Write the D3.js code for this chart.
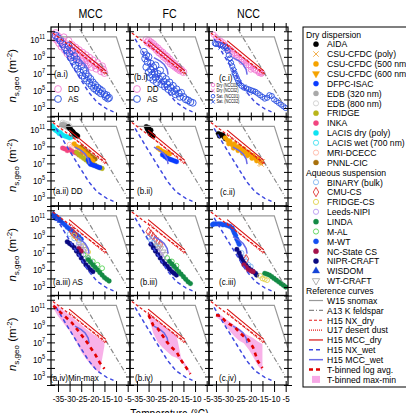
<!DOCTYPE html>
<html>
<head>
<meta charset="utf-8">
<script src="https://cdn.jsdelivr.net/npm/d3@7"></script>
<style>
  body { margin: 0; background: #fff; }
  text { font-family: "Liberation Sans", Arial, sans-serif; fill: #000; }
</style>
</head>
<body>
<svg id="chart" width="406" height="413"></svg>
<script>
// 1: DATA  (every point is [temperature degC, log10 ns,geo in m^-2])
const columnTitles = ["MCC", "FC", "NCC"];
const xTickValues = [-35, -30, -25, -20, -15, -10, -5];
const yTickExps = [2, 3, 4, 5, 6, 7, 8, 9, 10, 11, 12];
const yLabelExps = [3, 5, 7, 9, 11];

// reference curves
const refSnomax = [[-35, 11.35], [-9.9, 11.35], [-4.0, 6.3]];
const refFeldspar = [[-25.6, 12.26], [-5.5, 3.2]];
const refNXdry = [[-37.2, 11.8], [-14, 7.0]];
const refU17 = [[-30.2, 10.5], [-14.6, 6.95]];
const refMCCdry = [[-30.2, 10.9], [-14.4, 7.35]];
const refNXwet = [[-35.8, 11.1], [-31.2, 9.0], [-26.9, 7.1], [-21.9, 4.9], [-18.3, 3.7], [-14, 2.9], [-11.1, 2.55]];
const refMCCwet = [[-27.7, 8.9], [-25, 8.5], [-23.3, 8.1], [-22, 7.5], [-21.6, 6.9]];

// row i : DD vs AS
const aiDD = [[-37,11.6],[-36.5,11.2],[-36,11.8],[-35.5,11.0],[-35,11.4],[-34.5,10.6],[-34,11.1],[-33.5,10.2],[-33,10.8],[-32.5,11.3],[-32,9.8],[-31.5,10.5],[-31,9.4],[-30.5,10.9],[-30,10.0],[-29.5,9.2],[-29,10.4],[-28.5,9.7],[-28,8.9],[-27.5,10.1],[-27,9.4],[-26.5,8.7],[-26,9.8],[-25.5,9.1],[-25,8.5],[-24.5,9.5],[-24,8.8],[-23.5,8.3],[-23,9.2],[-22.5,8.6],[-22,8.1],[-21.5,8.9],[-21,8.3],[-20.5,7.8],[-20,8.6],[-19,8.0],[-18.5,7.6],[-18,8.3],[-17,7.8],[-16.5,7.3],[-16,7.9],[-15.5,7.5],[-15,7.1]];
const aiAS = [[-36,11.5],[-35,11.2],[-34,10.9],[-33,10.5],[-32,10.1],[-31,9.8],[-30.5,10.3],[-30,9.4],[-29.5,8.9],[-29,9.7],[-28.5,8.5],[-28,9.1],[-27.5,8.0],[-27,8.7],[-26.5,7.6],[-26,8.3],[-25.5,7.2],[-25,7.9],[-24.5,6.8],[-24,7.4],[-23.5,6.5],[-23,7.0],[-22.5,6.2],[-22,6.7],[-21.5,5.9],[-21,6.4],[-20.5,5.6],[-20,6.0],[-19.5,5.3],[-19,5.7],[-18.5,5.1],[-18,5.4],[-17.5,4.9],[-17,5.2],[-16.5,4.7],[-16,5.0],[-15,4.6],[-14.5,4.3],[-14,4.5],[-13.5,4.1],[-13,4.2]];
const biDD = [[-31,11.0],[-30.5,10.7],[-30,10.9],[-29.5,10.5],[-29,10.7],[-28.5,10.3],[-28,10.5],[-27.5,10.1],[-27,10.2],[-26.5,9.8],[-26,10.0],[-25.5,9.5],[-25,9.7],[-24.5,9.3],[-24,9.5],[-23.5,9.0],[-23,9.2],[-22.5,8.8],[-22,9.0],[-21.5,8.5],[-21,8.7],[-20.5,8.2],[-20,8.4],[-19.5,8.0],[-19,8.2],[-18.5,7.8],[-18,7.9],[-17.5,7.6],[-17,7.7],[-16.5,7.4],[-16,7.5],[-15,7.2]];
const biAS = [[-32,9.6],[-31.5,8.8],[-31,9.2],[-31,7.8],[-30.5,8.4],[-30,7.2],[-30,9.0],[-29.5,6.6],[-29,8.2],[-29,7.5],[-28.5,6.9],[-28,7.8],[-28,6.3],[-27.5,7.2],[-27,6.6],[-27,8.0],[-26.5,6.0],[-26,7.0],[-25.5,6.4],[-25,7.4],[-24.5,5.8],[-24,6.7],[-23.5,6.1],[-23,5.5],[-22.5,6.4],[-22,5.8],[-21.5,5.2],[-21,6.0],[-20.5,5.4],[-20,4.9],[-19.5,5.6],[-19,5.0],[-18.5,4.6],[-18,5.2],[-17,4.7],[-16.5,4.3],[-16,4.8],[-15,4.3],[-14,4.0],[-13,3.9],[-12,3.7],[-11,3.6]];
const ciDD = [[-36,11.6],[-35,11.3],[-34,11.0],[-33,10.9],[-32.5,10.5],[-32,10.7],[-31,10.3],[-30,10.1],[-30,9.8],[-29,9.9],[-28,9.6],[-28,9.3],[-27,9.4],[-26,9.2],[-26,8.9],[-25,8.9],[-24,8.7],[-24,8.4],[-23,8.5],[-22,8.3],[-22,8.0],[-21,8.0],[-20,7.8],[-20,7.5],[-19,7.6],[-18,7.4],[-17,7.3],[-16.5,7.1],[-16,7.2],[-15.5,7.0],[-15,7.1]];
const ciAS = [[-35.5,10.6],[-35,10.5],[-34,10.5],[-33,10.4],[-32,10.3],[-31,10.2],[-30.5,10.0],[-30,9.7],[-29.5,9.2],[-29,8.8],[-28.5,8.3],[-28,7.9],[-27.5,7.5],[-27,7.1],[-26.5,6.8],[-26,6.5],[-25.5,6.2],[-25,5.9],[-24,5.6],[-23,5.4],[-22,5.3],[-21,5.2],[-20,5.1],[-19,5.0],[-18,4.9],[-17,4.7],[-16,4.5],[-15,4.3],[-14,4.1],[-13,4.2],[-12,4.5],[-11,4.4],[-10,4.0],[-9,3.8],[-8,3.6],[-7,3.4],[-6,3.2],[-5,3.0]];
const ciAS2 = [[-33,10.1],[-31,9.9],[-29,8.5],[-27,7.3],[-25,6.0],[-23,5.5],[-21,5.0],[-19,4.8]];
const ciDD2 = [[-34,11.2],[-31,10.5],[-28,9.8],[-25,9.1],[-22,8.5],[-19,7.8]];

// row ii : dry dispersion
const aiiLACIS = [[-37.5,11.4],[-37,11.2],[-36.5,11.0],[-36,10.9],[-35.5,10.8],[-35,10.7],[-34.5,10.5],[-34,10.6],[-33.5,10.4],[-33,10.3],[-32,10.2],[-31,10.1],[-30,10.0],[-29,10.1]];
const aiiEDB320 = [[-33.5,11.5],[-33,11.6],[-32.5,11.4],[-32,11.5],[-31.5,11.3],[-31,11.2]];
const aiiEDB800 = [[-33,11.8],[-32,11.7],[-31,11.6],[-30,11.4]];
const aiiAIDA = [[-30.5,11.3],[-30,11.1],[-29.5,11.0],[-29,10.8],[-28.5,10.7],[-28,10.5],[-27.5,10.4],[-27,10.3],[-26.5,10.2]];
const aiiINKA = [[-33,8.8],[-32,8.7],[-31,8.5],[-30,8.6],[-29,8.4],[-28,8.3],[-27,8.2],[-26,8.0],[-25,8.1]];
const aiiCSU = [[-28,9.3],[-27,9.0],[-26,8.8],[-25,8.6],[-24,8.4],[-23,8.1],[-22,7.9],[-21,7.6],[-20,7.3]];
const aiiFRIDGE = [[-27,8.3],[-26,8.0],[-25,7.8],[-24,7.6],[-23,7.4],[-22,7.2],[-21,7.1],[-20,6.9],[-19,6.8],[-18,6.6],[-17,6.5],[-16,6.4]];
const aiiPNNL = [[-25,8.9],[-24,8.6],[-23,8.4],[-22,8.2],[-21,7.9],[-20,7.7],[-19,7.5]];
const aiiDFPC = [[-22,7.4],[-21.5,7.1],[-21,6.9],[-20,6.8],[-19,6.7],[-18,6.6],[-17,6.5]];
const aiiMRI = [[-30,9.2],[-29,9.0],[-28,8.8]];
const biiAIDA = [[-31,11.3],[-30.5,11.0],[-30,10.8],[-29.5,10.6],[-29,10.4],[-28.5,10.3],[-28,10.2],[-30,11.2],[-29,10.9]];
const biiCSU = [[-26,8.8],[-25,8.6],[-24,8.4],[-23,8.3],[-22,8.2],[-21,8.1]];
const biiDFPC = [[-24,8.0],[-23,7.8],[-22,7.6],[-21,7.5],[-20,7.4],[-19,7.3],[-18,7.2]];
const ciiAIDA = [[-34,10.5],[-33.5,10.2],[-33,10.4],[-32,10.3],[-31.5,10.1],[-31,9.9]];
const ciiCSU = [[-31,10.0],[-30,9.7],[-29.5,9.3],[-29,9.6],[-28,9.2],[-27.5,8.8],[-27,9.3],[-26,8.9],[-25.5,8.5],[-25,9.0],[-24,8.6],[-23.5,8.2],[-23,8.7],[-22,8.3],[-21.5,7.9],[-21,8.3],[-20,8.0],[-19.5,7.6],[-19,7.9],[-18,7.6],[-17.5,7.3],[-17,7.5],[-16,7.2],[-15.5,7.1]];
const ciiCSUx = [[-16,7.0],[-15,7.2],[-15.5,6.9]];

// row iii : aqueous suspension
const aiiiWISDOM = [[-37,11.5],[-36.5,11.3],[-36,11.1],[-35,11.0],[-34,10.8]];
const aiiiMWT = [[-36,11.3],[-35,11.0],[-34,10.8],[-33,10.5],[-32,10.3],[-31,10.0],[-30,9.8],[-29,9.6],[-28,9.3],[-27,9.1],[-26,8.9],[-25,8.6]];
const aiiiNIPR = [[-31,8.3],[-30,8.1],[-29,7.9],[-28,7.6],[-27,7.2],[-26,6.8],[-25,6.4],[-24,6.0],[-23,5.6],[-22,5.3],[-21,5.0],[-20,4.8]];
const aiiiLeeds = [[-26,8.0],[-25,7.6],[-24,7.2],[-23,6.8],[-22,6.4],[-21,6.0]];
const aiiiFRIDGECS = [[-28,9.0],[-26,8.5],[-24,7.8],[-22,7.1]];
const aiiiLINDA = [[-22,6.2],[-21,5.9],[-20,5.6],[-19,5.3],[-18,5.0],[-17,4.7],[-16,4.4],[-15,4.1],[-14,3.9],[-13,3.7]];
const aiiiMAL = [[-24,6.8],[-22,6.4],[-20,6.0],[-18,5.6],[-16,5.2]];
const aiiiBINARY = [[-30,9.2],[-28,8.7],[-26,8.2]];
const aiiiCMU = [[-29,9.5],[-28,9.2],[-27,8.9]];
const aiiiNCState = [[-26,7.5],[-25,7.2]];
const aiiiWT = [[-25,7.8],[-24,7.4]];
const biiiCMU = [[-30,9.5],[-29,9.2],[-28,8.9],[-27,8.6],[-26,8.3],[-25,8.0]];
const biiiBINARY = [[-30,8.8],[-29,8.5],[-28,8.2],[-27,7.9],[-26,7.6]];
const biiiNIPR = [[-29,8.0],[-28,7.6],[-27,7.2],[-26,6.8],[-25,6.4],[-24,6.0],[-23,5.7],[-22,5.4],[-21,5.1],[-20,4.8],[-19,4.6],[-18,4.4]];
const biiiLeeds = [[-26,7.2],[-25,6.8],[-24,6.4],[-23,6.0],[-22,5.6],[-21,5.2]];
const biiiLINDA = [[-21,6.0],[-20,5.7],[-19,5.4],[-18,5.1],[-17,4.8],[-16,4.5],[-15,4.2],[-14,3.9],[-13,3.6],[-12,3.4]];
const biiiWT = [[-26,7.8],[-25,7.5],[-24,7.1],[-23,6.8]];
const biiiMAL = [[-22,6.4],[-20,6.0],[-18,5.5]];
const ciiiMWT = [[-36.5,10.3],[-36,10.4],[-35,10.4],[-34,10.4],[-33,10.4],[-32,10.3],[-31,10.3],[-30,10.2],[-29,10.1],[-28,9.9],[-27.5,9.6],[-27,9.3],[-26.5,9.0],[-26,8.6],[-25.5,8.3],[-25,8.0]];
const ciiiNIPR = [[-26,7.4],[-25,7.0],[-24.5,6.6],[-24,6.3],[-23.5,6.0],[-23,5.8],[-22,5.5],[-21,5.2],[-20,5.0],[-19,4.8],[-18,4.6],[-17.5,4.4]];
const ciiiNCState = [[-23,5.6],[-22,5.3],[-21,5.0],[-20,4.9],[-19,4.8]];
const ciiiBINARY = [[-24,7.0],[-23,6.4],[-22,6.0],[-21,5.6],[-20,5.4]];
const ciiiFRIDGECS = [[-16,4.3],[-15,4.0],[-14,3.9],[-13,3.8]];
const ciiiLINDA = [[-14,4.6],[-13,4.5],[-12,4.4],[-11,4.2],[-10,4.0],[-9,3.8],[-8,3.6],[-7,3.4],[-6,3.2],[-5,3.0]];
const ciiiCMU = [[-22,6.3]];

// row iv : temperature-binned statistics
const ivA_T   = [-37, -35, -33, -31, -29, -27, -25, -23, -21, -19, -17, -15];
const ivA_max = [11.5, 11.2, 10.8, 10.4, 10.0, 9.5, 9.1, 8.6, 8.2, 7.8, 7.4, 7.1];
const ivA_min = [11.0, 10.1, 9.4, 8.7, 8.0, 7.0, 5.9, 5.1, 4.4, 3.8, 3.5, 6.6];
const ivA_avg = [11.3, 10.8, 10.3, 9.8, 9.3, 8.6, 7.9, 7.2, 6.4, 5.6, 4.6, 3.9];
const ivB_T   = [-30, -28, -26, -24, -22, -20, -18, -16, -14, -12];
const ivB_max = [10.4, 9.9, 9.5, 9.0, 8.6, 8.2, 7.9, 5.2, 4.4, 3.5];
const ivB_min = [10.0, 8.1, 7.0, 6.4, 5.9, 5.4, 5.2, 4.8, 4.0, 3.2];
const ivB_avg = [10.2, 9.0, 8.6, 7.8, 7.0, 6.4, 5.9, 4.9, 4.1, 3.3];
const ivC_T   = [-35, -33, -31, -29, -27, -25, -23, -21, -19, -17, -15];
const ivC_max = [10.4, 10.2, 9.8, 9.4, 9.0, 8.6, 8.1, 7.8, 7.5, 7.1, 6.8];
const ivC_min = [10.0, 9.6, 9.0, 8.3, 7.7, 7.2, 6.9, 6.2, 5.3, 4.3, 3.6];
const ivC_avg = [10.2, 10.1, 9.5, 9.1, 8.8, 8.2, 7.7, 7.3, 6.4, 4.8, 4.0];

// legend names
const dryNames = ["AIDA", "CSU-CFDC (poly)", "CSU-CFDC (500 nm)", "CSU-CFDC (600 nm)", "DFPC-ISAC", "EDB (320 nm)", "EDB (800 nm)", "FRIDGE", "INKA", "LACIS dry (poly)", "LACIS wet (700 nm)", "MRI-DCECC", "PNNL-CIC"];
const aqNames = ["BINARY (bulk)", "CMU-CS", "FRIDGE-CS", "Leeds-NIPI", "LINDA", "M-AL", "M-WT", "NC-State CS", "NIPR-CRAFT", "WISDOM", "WT-CRAFT"];
const refNames = ["W15 snomax", "A13 K feldspar", "H15 NX_dry", "U17 desert dust", "H15 MCC_dry", "H15 NX_wet", "H15 MCC_wet", "T-binned log avg.", "T-binned max-min"];
const ncLegendNames = ["Dry (NCC01)", "Dry (NCC02)", "Sat. (NCC01)", "Sat. (NCC02)"];

// 2: STYLES
const pinkDD = "#f27ad2", blueAS = "#2a4fe0";
const markerStyle = {
  "AIDA": { shape: "circle", color: "#000000" },
  "CSU-CFDC (poly)": { shape: "x", color: "#f2a73a" },
  "CSU-CFDC (500 nm)": { shape: "circle", color: "#f5a300" },
  "CSU-CFDC (600 nm)": { shape: "tridown", color: "#f5a300" },
  "DFPC-ISAC": { shape: "circle", color: "#0a3cff" },
  "EDB (320 nm)": { shape: "circle", color: "#a9a9a9" },
  "EDB (800 nm)": { shape: "ocircle", color: "#cfcfcf" },
  "FRIDGE": { shape: "circle", color: "#b9b51a" },
  "INKA": { shape: "circle", color: "#f2447f" },
  "LACIS dry (poly)": { shape: "circle", color: "#0fe3f2" },
  "LACIS wet (700 nm)": { shape: "ocircle", color: "#3fe0f0" },
  "MRI-DCECC": { shape: "ocircle", color: "#ffb7a6" },
  "PNNL-CIC": { shape: "circle", color: "#a8700c" },
  "BINARY (bulk)": { shape: "ocircle", color: "#80b6f2" },
  "CMU-CS": { shape: "odiamond", color: "#e03232" },
  "FRIDGE-CS": { shape: "ocircle", color: "#e2d24e" },
  "Leeds-NIPI": { shape: "ocircle", color: "#b898f0" },
  "LINDA": { shape: "circle", color: "#138a45" },
  "M-AL": { shape: "ocircle", color: "#55d455" },
  "M-WT": { shape: "circle", color: "#1450f2" },
  "NC-State CS": { shape: "circle", color: "#a3124a" },
  "NIPR-CRAFT": { shape: "circle", color: "#0a0a80" },
  "WISDOM": { shape: "tri", color: "#1443d6" },
  "WT-CRAFT": { shape: "otridown", color: "#a8a8a8" }
};
const refStyle = {
  "W15 snomax": { color: "#999", width: 1.2, dash: null },
  "A13 K feldspar": { color: "#888", width: 1.2, dash: "5,2,1,2" },
  "H15 NX_dry": { color: "#e41a1a", width: 1.2, dash: "3,2" },
  "U17 desert dust": { color: "#e41a1a", width: 1.2, dash: "1,1" },
  "H15 MCC_dry": { color: "#d81010", width: 1.2, dash: null },
  "H15 NX_wet": { color: "#3e49e0", width: 1.5, dash: "4,3" },
  "H15 MCC_wet": { color: "#6a6ae6", width: 1.5, dash: null }
};
const sx = 0.85; // figure text is horizontally condensed

// 3: LAYOUT
const colX = [51, 130, 209], colW = 79;
const rowY = [27, 116.5, 206, 295.5], rowH = 89.5;

const svg = d3.select("#chart");

function xScaleFor(c) {
  return d3.scaleLinear().domain([-38, -4]).range([colX[c], colX[c] + colW]);
}
function yScaleFor(r) {
  return d3.scaleLog().domain([1e2, Math.pow(10, 12.5)]).range([rowY[r] + rowH, rowY[r]]);
}

function label(parent, x, y, str, size, anchor, k) {
  return parent.append("text")
    .attr("transform", `translate(${x},${y}) scale(${k || sx},1)`)
    .attr("font-size", size)
    .attr("text-anchor", anchor || "start")
    .text(str);
}

function symbolPath(shape, r) {
  const area = Math.PI * r * r;
  if (shape === "tri" || shape === "tridown" || shape === "otridown") return d3.symbol(d3.symbolTriangle, area * 1.1)();
  if (shape === "odiamond") return d3.symbol(d3.symbolDiamond, area * 1.2)();
  if (shape === "x") return d3.symbol(d3.symbolX, area)();
  return d3.symbol(d3.symbolCircle, area)();
}
function applyMarker(sel, shape, color, r) {
  const open = shape.startsWith("o") || shape === "x";
  sel.attr("d", symbolPath(shape, r))
    .attr("fill", open ? "none" : color)
    .attr("stroke", color)
    .attr("stroke-width", open ? 0.9 : 0.3);
  return sel;
}

// 4: PANEL SPECS
const S = (name, data, r) => ({ name, data, r: r || 2.4 });
const panels = [
  { r: 0, c: 0, label: "(a.i)", lx: 54, ly: 77, series: [
      { data: aiDD, shape: "ocircle", color: pinkDD, r: 3.4 },
      { data: aiAS, shape: "ocircle", color: blueAS, r: 3.4 }] },
  { r: 0, c: 1, label: "(b.i)", lx: 134, ly: 80, series: [
      { data: biDD, shape: "ocircle", color: pinkDD, r: 3.4 },
      { data: biAS, shape: "ocircle", color: blueAS, r: 3.4 }] },
  { r: 0, c: 2, label: "(c.i)", lx: 219, ly: 81, series: [
      { data: ciDD, shape: "ocircle", color: pinkDD, r: 2.6 },
      { data: ciDD2, shape: "x", color: pinkDD, r: 2.2 },
      { data: ciAS, shape: "ocircle", color: blueAS, r: 2.6 },
      { data: ciAS2, shape: "x", color: blueAS, r: 2.2 }] },
  { r: 1, c: 0, label: "(a.ii) DD", lx: 53, ly: 194, series: [
      S("LACIS dry (poly)", aiiLACIS), S("EDB (800 nm)", aiiEDB800), S("EDB (320 nm)", aiiEDB320),
      S("AIDA", aiiAIDA), S("MRI-DCECC", aiiMRI), S("INKA", aiiINKA), S("FRIDGE", aiiFRIDGE),
      S("PNNL-CIC", aiiPNNL), S("CSU-CFDC (500 nm)", aiiCSU), S("DFPC-ISAC", aiiDFPC)] },
  { r: 1, c: 1, label: "(b.ii)", lx: 137, ly: 194, series: [
      S("AIDA", biiAIDA), S("CSU-CFDC (500 nm)", biiCSU), S("DFPC-ISAC", biiDFPC)] },
  { r: 1, c: 2, label: "(c.ii)", lx: 220, ly: 195, series: [
      S("AIDA", ciiAIDA), S("CSU-CFDC (500 nm)", ciiCSU), S("CSU-CFDC (poly)", ciiCSUx)] },
  { r: 2, c: 0, label: "(a.iii) AS", lx: 53, ly: 285, series: [
      S("M-WT", aiiiMWT), S("WISDOM", aiiiWISDOM), S("BINARY (bulk)", aiiiBINARY), S("CMU-CS", aiiiCMU),
      S("FRIDGE-CS", aiiiFRIDGECS), S("Leeds-NIPI", aiiiLeeds), S("WT-CRAFT", aiiiWT), S("M-AL", aiiiMAL),
      S("NC-State CS", aiiiNCState), S("NIPR-CRAFT", aiiiNIPR), S("LINDA", aiiiLINDA)] },
  { r: 2, c: 1, label: "(b.iii)", lx: 140, ly: 285, series: [
      S("CMU-CS", biiiCMU), S("BINARY (bulk)", biiiBINARY), S("WT-CRAFT", biiiWT), S("Leeds-NIPI", biiiLeeds),
      S("M-AL", biiiMAL), S("NIPR-CRAFT", biiiNIPR), S("LINDA", biiiLINDA)] },
  { r: 2, c: 2, label: "(c.iii)", lx: 219, ly: 285, series: [
      S("M-WT", ciiiMWT), S("BINARY (bulk)", ciiiBINARY), S("CMU-CS", ciiiCMU), S("NIPR-CRAFT", ciiiNIPR),
      S("NC-State CS", ciiiNCState), S("FRIDGE-CS", ciiiFRIDGECS), S("LINDA", ciiiLINDA)] },
  { r: 3, c: 0, label: "(a.iv)Min-max", lx: 50, ly: 381, bins: { T: ivA_T, max: ivA_max, min: ivA_min, avg: ivA_avg } },
  { r: 3, c: 1, label: "(b.iv)", lx: 135, ly: 381, bins: { T: ivB_T, max: ivB_max, min: ivB_min, avg: ivB_avg } },
  { r: 3, c: 2, label: "(c.iv)", lx: 219, ly: 381, bins: { T: ivC_T, max: ivC_max, min: ivC_min, avg: ivC_avg } }
];
const refCurves = [
  ["W15 snomax", refSnomax], ["A13 K feldspar", refFeldspar], ["H15 NX_wet", refNXwet],
  ["H15 MCC_wet", refMCCwet], ["U17 desert dust", refU17], ["H15 NX_dry", refNXdry], ["H15 MCC_dry", refMCCdry]
];

// 5: DRAW PANELS
const defs = svg.append("defs");
panels.forEach((p, i) => {
  const x = xScaleFor(p.c), y = yScaleFor(p.r);
  const X = d => x(d[0]), Y = d => y(Math.pow(10, d[1]));
  defs.append("clipPath").attr("id", "clip" + i)
    .append("rect").attr("x", colX[p.c]).attr("y", rowY[p.r]).attr("width", colW).attr("height", rowH);
  const g = svg.append("g").attr("clip-path", `url(#clip${i})`);

  if (p.bins) {
    const rows = p.bins.T.map((t, j) => ({ t, lo: p.bins.min[j], hi: p.bins.max[j], avg: p.bins.avg[j] }));
    g.append("path").datum(rows)
      .attr("d", d3.area().x(d => x(d.t)).y0(d => y(Math.pow(10, d.lo))).y1(d => y(Math.pow(10, d.hi))))
      .attr("fill", "#f7a8e6").attr("opacity", 0.9);
  }

  (p.series || []).forEach(s => {
    const st = s.name ? markerStyle[s.name] : s;
    g.selectAll(null).data(s.data).join("path")
      .attr("transform", d => `translate(${X(d)},${Y(d)})${st.shape === "tridown" || st.shape === "otridown" ? " rotate(180)" : ""}`)
      .call(sel => applyMarker(sel, st.shape, st.color, s.r));
  });

  const line = d3.line().x(X).y(Y);
  refCurves.forEach(([name, pts]) => {
    const st = refStyle[name];
    g.append("path").datum(pts).attr("d", line)
      .attr("fill", "none").attr("stroke", st.color).attr("stroke-width", st.width)
      .attr("stroke-dasharray", st.dash);
  });

  if (p.bins) {
    const rows = p.bins.T.map((t, j) => [t, p.bins.avg[j]]);
    g.append("path").datum(rows).attr("d", line)
      .attr("fill", "none").attr("stroke", "#e00000").attr("stroke-width", 2.6)
      .attr("stroke-dasharray", "4,4");
  }

  // frame and crossing ticks
  const ax = svg.append("g").attr("class", "axes");
  const yt = yTickExps.map(e => Math.pow(10, e));
  const inner = 4, outer = 4;
  ax.append("g").attr("transform", `translate(${colX[p.c]},0)`)
    .call(d3.axisLeft(y).tickValues(yt).tickSize(-inner).tickFormat(""));
  ax.append("g").attr("transform", `translate(${colX[p.c] + colW},0)`)
    .call(d3.axisRight(y).tickValues(yt).tickSize(-inner).tickFormat(""));
  ax.append("g").attr("transform", `translate(0,${rowY[p.r]})`)
    .call(d3.axisTop(x).tickValues(xTickValues).tickSize(-inner).tickFormat(""));
  ax.append("g").attr("transform", `translate(0,${rowY[p.r] + rowH})`)
    .call(d3.axisBottom(x).tickValues(xTickValues).tickSize(-inner).tickFormat(""));
  if (p.c === 0) ax.append("g").attr("transform", `translate(${colX[0]},0)`)
    .call(d3.axisLeft(y).tickValues(yt).tickSize(outer).tickFormat(""));
  if (p.c === 2) ax.append("g").attr("transform", `translate(${colX[2] + colW},0)`)
    .call(d3.axisRight(y).tickValues(yt).tickSize(outer).tickFormat(""));
  if (p.r === 0) ax.append("g").attr("transform", `translate(0,${rowY[0]})`)
    .call(d3.axisTop(x).tickValues(xTickValues).tickSize(outer).tickFormat(""));
  if (p.r === 3) {
    const bx = ax.append("g").attr("transform", `translate(0,${rowY[3] + rowH})`)
      .call(d3.axisBottom(x).tickValues(xTickValues).tickSize(outer + 3).tickFormat(d => d));
    bx.selectAll("text").attr("font-size", 9.5).attr("y", 10)
      .attr("transform", `scale(${sx},1)`)
      .style("font-family", "Liberation Sans, Arial, sans-serif");
  }
  ax.selectAll(".domain").remove();
  ax.selectAll("line").attr("stroke", "#000").attr("stroke-width", 1);
  ax.append("rect").attr("x", colX[p.c]).attr("y", rowY[p.r]).attr("width", colW).attr("height", rowH)
    .attr("fill", "none").attr("stroke", "#000").attr("stroke-width", 1.2);

  // y labels
  if (p.c === 0) {
    const yl = svg.append("g");
    yLabelExps.forEach(e => {
      const t = yl.append("text")
        .attr("transform", `translate(45,${y(Math.pow(10, e)) + 3.5}) scale(${sx},1)`)
        .attr("text-anchor", "end").attr("font-size", 9.5);
      t.append("tspan").text("10");
      t.append("tspan").attr("dy", -4).attr("font-size", 6.5).text(e);
    });
    const ty = svg.append("text")
      .attr("transform", `translate(16,${rowY[p.r] + rowH / 2 + 4}) rotate(-90)`)
      .attr("text-anchor", "middle").attr("font-size", 11.5);
    ty.append("tspan").attr("font-style", "italic").text("n");
    ty.append("tspan").attr("font-size", 8).attr("dy", 2.5).text("s,geo");
    ty.append("tspan").attr("dy", -2.5).text(" (m");
    ty.append("tspan").attr("font-size", 8).attr("dy", -4.5).text("-2");
    ty.append("tspan").attr("dy", 4.5).text(")");
  }
  label(svg, p.lx, p.ly, p.label, 9.5);
});

// column titles and x label
columnTitles.forEach((t, c) => label(svg, colX[c] + colW / 2, 18, t, 12.5, "middle"));
label(svg, colX[1] + colW / 2, 418, "Temperature (\u00B0C)", 12, "middle");

// 6: IN-PANEL LEGENDS (row i)
[[0, 58], [1, 137]].forEach(([c, mx]) => {
  [[pinkDD, "DD", 89], [blueAS, "AS", 99]].forEach(([col, txt, yy]) => {
    svg.append("path").attr("transform", `translate(${mx},${yy})`)
      .call(sel => applyMarker(sel, "ocircle", col, 3.4));
    label(svg, mx + 10, yy + 3.3, txt, 9.5);
  });
});
ncLegendNames.forEach((n, j) => {
  const col = j < 2 ? pinkDD : blueAS;
  const shape = j % 2 === 0 ? "ocircle" : "x";
  const yy = 85 + j * 5.6;
  svg.append("path").attr("transform", `translate(213,${yy})`).call(sel => applyMarker(sel, shape, col, 1.8));
  label(svg, 216.5, yy + 1.6, n, 4.5);
});

// 7: MAIN LEGEND
const lg = svg.append("g");
const lx0 = 303, ly0 = 27, lstep = 9.86;
lg.append("rect").attr("x", lx0).attr("y", ly0).attr("width", 120).attr("height", 360)
  .attr("fill", "#fff").attr("stroke", "#000").attr("stroke-width", 1);
const legendRows = [{ head: "Dry dispersion" }]
  .concat(dryNames.map(n => ({ name: n, kind: "marker" })))
  .concat([{ head: "Aqueous suspension" }])
  .concat(aqNames.map(n => ({ name: n, kind: "marker" })))
  .concat([{ head: "Reference curves" }])
  .concat(refNames.map(n => ({ name: n, kind: "ref" })));
legendRows.forEach((row, j) => {
  const cy = 34.3 + j * lstep;
  if (row.head) { label(lg, 306, cy + 3.3, row.head, 9.6, "start", 0.9); return; }
  if (row.kind === "marker") {
    const st = markerStyle[row.name];
    lg.append("path").attr("transform", `translate(316,${cy})${st.shape.endsWith("tridown") ? " rotate(180)" : ""}`)
      .call(sel => applyMarker(sel, st.shape, st.color, 2.6));
  } else if (row.name === "T-binned log avg.") {
    lg.append("line").attr("x1", 309).attr("x2", 323).attr("y1", cy).attr("y2", cy)
      .attr("stroke", "#e00000").attr("stroke-width", 2.6).attr("stroke-dasharray", "4,3");
  } else if (row.name === "T-binned max-min") {
    lg.append("rect").attr("x", 312).attr("y", cy - 3.5).attr("width", 8).attr("height", 7).attr("fill", "#f7a8e6");
  } else {
    const st = refStyle[row.name];
    lg.append("line").attr("x1", 309).attr("x2", 323).attr("y1", cy).attr("y2", cy)
      .attr("stroke", st.color).attr("stroke-width", st.width).attr("stroke-dasharray", st.dash);
  }
  label(lg, 327, cy + 3.3, row.name, 9.6, "start", 0.9);
});
</script>
</body>
</html>
